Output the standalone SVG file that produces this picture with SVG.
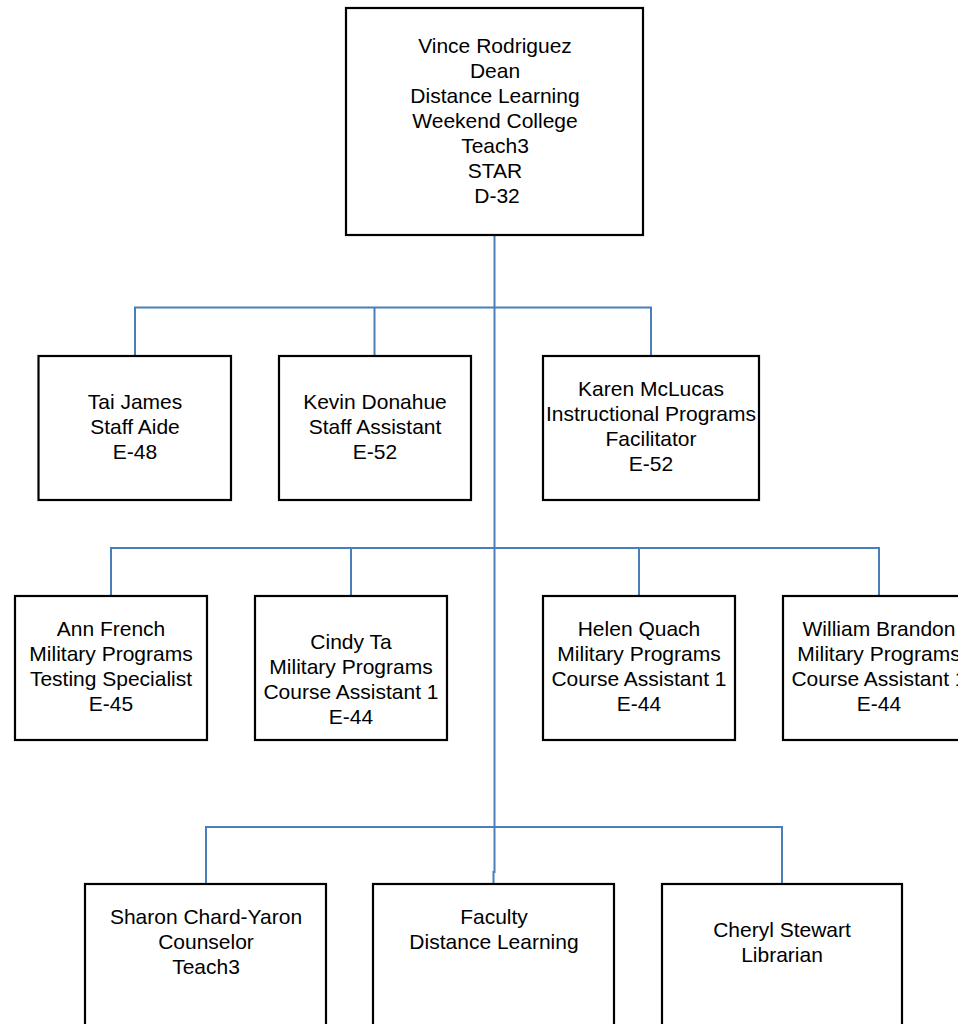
<svg xmlns="http://www.w3.org/2000/svg" width="958" height="1024" viewBox="0 0 958 1024">
<style>
.box{fill:#fff;stroke:#000;stroke-width:2.2}
.ln{fill:none;stroke:#4a7ebb;stroke-width:2}
text{font-family:"Liberation Sans",Arial,sans-serif;font-size:21px;fill:#000;text-anchor:middle}
</style>
<rect width="958" height="1024" fill="#fff"/>
<g id="connectors">
<path class="ln" d="M494.5 235 V872 H493.5 V884"/>
<path class="ln" d="M135 356 V307.5 H651 V356 M374.5 307.5 V356"/>
<path class="ln" d="M111 596 V548 H879 V596 M351 548 V596 M639 548 V596"/>
<path class="ln" d="M206 884 V827 H782 V884"/>
</g>
<g id="n-vince">
<rect class="box" x="346" y="8" width="297" height="227"/>
<text x="495" y="52.5">Vince Rodriguez</text>
<text x="495" y="77.5">Dean</text>
<text x="495" y="102.5">Distance Learning</text>
<text x="495" y="127.5">Weekend College</text>
<text x="495" y="152.5">Teach3</text>
<text x="495" y="177.5">STAR</text>
<text x="497" y="202.5">D-32</text>
</g>
<g id="n-tai">
<rect class="box" x="38.5" y="356" width="192.5" height="144"/>
<text x="135" y="409">Tai James</text>
<text x="135" y="434">Staff Aide</text>
<text x="135" y="459">E-48</text>
</g>
<g id="n-kevin">
<rect class="box" x="279" y="356" width="192" height="144"/>
<text x="375" y="409">Kevin Donahue</text>
<text x="375" y="434">Staff Assistant</text>
<text x="375" y="459">E-52</text>
</g>
<g id="n-karen">
<rect class="box" x="543" y="356" width="216" height="144"/>
<text x="651" y="396">Karen McLucas</text>
<text x="651" y="421">Instructional Programs</text>
<text x="651" y="446">Facilitator</text>
<text x="651" y="471">E-52</text>
</g>
<g id="n-ann">
<rect class="box" x="15" y="596" width="192" height="144"/>
<text x="111" y="636">Ann French</text>
<text x="111" y="661">Military Programs</text>
<text x="111" y="686">Testing Specialist</text>
<text x="111" y="711">E-45</text>
</g>
<g id="n-cindy">
<rect class="box" x="255" y="596" width="192" height="144"/>
<text x="351" y="649">Cindy Ta</text>
<text x="351" y="674">Military Programs</text>
<text x="351" y="699">Course Assistant 1</text>
<text x="351" y="724">E-44</text>
</g>
<g id="n-helen">
<rect class="box" x="543" y="596" width="192" height="144"/>
<text x="639" y="636">Helen Quach</text>
<text x="639" y="661">Military Programs</text>
<text x="639" y="686">Course Assistant 1</text>
<text x="639" y="711">E-44</text>
</g>
<g id="n-william">
<rect class="box" x="783" y="596" width="192" height="144"/>
<text x="879" y="636">William Brandon</text>
<text x="879" y="661">Military Programs</text>
<text x="879" y="686">Course Assistant 1</text>
<text x="879" y="711">E-44</text>
</g>
<g id="n-sharon">
<rect class="box" x="85" y="884" width="241" height="160"/>
<text x="206" y="924">Sharon Chard-Yaron</text>
<text x="206" y="949">Counselor</text>
<text x="206" y="974">Teach3</text>
</g>
<g id="n-faculty">
<rect class="box" x="373" y="884" width="241" height="160"/>
<text x="494" y="924">Faculty</text>
<text x="494" y="949">Distance Learning</text>
</g>
<g id="n-cheryl">
<rect class="box" x="662" y="884" width="240" height="160"/>
<text x="782" y="937">Cheryl Stewart</text>
<text x="782" y="962">Librarian</text>
</g>
</svg>
